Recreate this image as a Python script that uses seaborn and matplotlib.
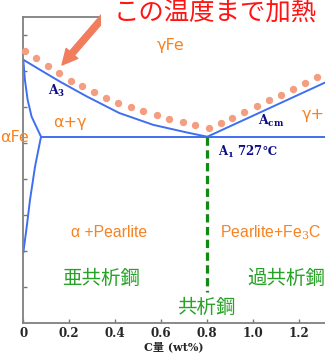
import matplotlib
matplotlib.use("Agg")
import matplotlib.pyplot as plt
import numpy as np
import pandas as pd
import seaborn as sns

# Phase boundaries of the Fe-C diagram: carbon content (wt%) vs temperature (°C)
a3_c = [0.0, 0.073, 0.16, 0.276, 0.417, 0.565, 0.71, 0.8]
a3_t = [941, 913, 880, 839, 793, 760, 739, 727]
alpha_c = [0.0, 0.007, 0.019, 0.036, 0.077]
alpha_t = [941, 885, 829, 783, 727]
solvus_c = [0.077, 0.051, 0.029, 0.015, 0.0]
solvus_t = [727, 644, 551, 477, 405]
a1_c = [0.077, 1.40]
a1_t = [727, 727]
acm_c = [0.8, 1.32]
acm_t = [727, 880]
eutectoid_c = [0.8, 0.8]
eutectoid_t = [727, 296]

# Heating temperature (dotted path above A3 / Acm)
heat_c = [0.007, 0.055, 0.109, 0.157, 0.206, 0.257, 0.307, 0.360, 0.413, 0.468,
          0.522, 0.580, 0.635, 0.693, 0.748, 0.806, 0.858, 0.909, 0.961, 1.015,
          1.067, 1.119, 1.171, 1.224, 1.276]
heat_t = [964, 946, 924, 904, 883, 867, 850, 836, 822, 811,
          799, 788, 777, 768, 761, 752, 765, 780, 796, 813,
          828, 844, 859, 876, 892]

x_ticks = [0, 0.2, 0.4, 0.6, 0.8, 1.0, 1.2]
x_tick_labels = ["0", "0.2", "0.4", "0.6", "0.8", "1.0", "1.2"]
y_ticks = [310, 410, 510, 610, 710, 810, 910, 1010]

sns.set_style("ticks")
plt.rcParams["mathtext.fontset"] = "dejavuserif"

BLUE = "#3f6ff0"
ORANGE = "#f7821f"
NAVY = "#0c0c86"
GREEN = "#26a226"
SALMON = "#f39e80"
ARROW = "#f17d5d"
RED = "#ff1414"
JP = ["Noto Sans CJK JP", "DejaVu Sans"]
GR = ["DejaVu Sans"]
LAT = ["Liberation Sans", "DejaVu Sans"]

fig = plt.figure(figsize=(3.25, 3.56), dpi=100)
ax = fig.add_axes([0.0717, 0.0935, 1.0 - 0.0717, 0.9514 - 0.0935])

line_kw = dict(color=BLUE, lw=1.4, sort=False, estimator=None, ax=ax)
for cs, ts in [(a3_c, a3_t), (alpha_c, alpha_t), (solvus_c, solvus_t),
               (a1_c, a1_t), (acm_c, acm_t)]:
    sns.lineplot(x=cs, y=ts, **line_kw)

sns.lineplot(x=eutectoid_c, y=eutectoid_t, color="#128a12", lw=2.3,
             sort=False, estimator=None, ax=ax, dashes=False)
ax.lines[-1].set_dashes([2.6, 1.4])

heat = pd.DataFrame({"c": heat_c, "t": heat_t})
sns.scatterplot(data=heat, x="c", y="t", color=SALMON, s=28, linewidth=0,
                ax=ax, zorder=3, clip_on=False)

ax.set_xlim(0, 1.3117)
ax.set_ylim(210, 1059)
ax.set_xticks(x_ticks)
ax.set_xticklabels(x_tick_labels, family="DejaVu Serif", weight="bold",
                   fontsize=8.6)
ax.set_yticks(y_ticks)
ax.set_yticklabels([])
ax.tick_params(direction="in", length=3, width=1, color="#777777", pad=3)
for side in ("left", "bottom", "top"):
    ax.spines[side].set_color("#808080")
    ax.spines[side].set_linewidth(1.3)
ax.spines["right"].set_visible(False)
ax.set_ylabel("")
ax.set_xlabel("C量 (wt%)", family=["DejaVu Serif", "Noto Sans CJK JP"],
              weight="bold", fontsize=8, labelpad=1)

# Region labels
ax.text(0.64, 982, "γFe", color=ORANGE, fontsize=11.5, family=GR,
        ha="center", va="center")
ax.text(0.203, 767, "α+γ", color=ORANGE, fontsize=11.5, family=GR,
        ha="center", va="center")
ax.text(-0.1013, 724, "αFe", color=ORANGE, fontsize=11.5, family=GR,
        ha="left", va="center", clip_on=False)
ax.text(1.212, 788, "γ+Fe₃C", color=ORANGE, fontsize=11.5, family=GR,
        ha="left", va="center", clip_on=False)
ax.text(0.373, 462, "α +Pearlite", color=ORANGE, fontsize=11.3, family=LAT,
        ha="center", va="center")
ax.text(0.855, 461, "Pearlite+Fe$_3$C", color=ORANGE, fontsize=11.3,
        family=LAT, ha="left", va="center", clip_on=False)

ax.text(0.107, 853, r"$\mathbf{A_3}$", color=NAVY, fontsize=9,
        ha="left", va="center")
ax.text(1.02, 771, r"$\mathbf{A_{cm}}$", color=NAVY, fontsize=9,
        ha="left", va="center")
ax.text(0.846, 685, r"$\mathbf{A_1}$ 727℃", color=NAVY, fontsize=8.5,
        family=["DejaVu Serif", "Noto Sans CJK JP"], weight="bold",
        ha="left", va="center")

ax.text(0.34, 332, "亜共析鋼", color=GREEN, fontsize=14, family=JP,
        ha="center", va="center")
ax.text(0.973, 332, "過共析鋼", color=GREEN, fontsize=14, family=JP,
        ha="left", va="center", clip_on=False)
ax.text(0.794, 252, "共析鋼", color=GREEN, fontsize=14, family=JP,
        ha="center", va="center", clip_on=False)

fig.text(215.5 / 325, 1 - 12.5 / 356, "この温度まで加熱", color=RED,
         fontsize=18.3, family=JP, ha="center", va="center", zorder=5,
         bbox=dict(boxstyle="square,pad=0.5", fc="white", ec="none"))
ax.annotate("", xy=(62, 356 - 65), xycoords="figure pixels",
            xytext=(106, 356 - 14), textcoords="figure pixels",
            arrowprops=dict(arrowstyle="simple,head_length=1.1,head_width=1.1,"
                                       "tail_width=0.45",
                            color=ARROW, shrinkA=0, shrinkB=0),
            zorder=6, annotation_clip=False)

fig.savefig("out.png", dpi=100)
